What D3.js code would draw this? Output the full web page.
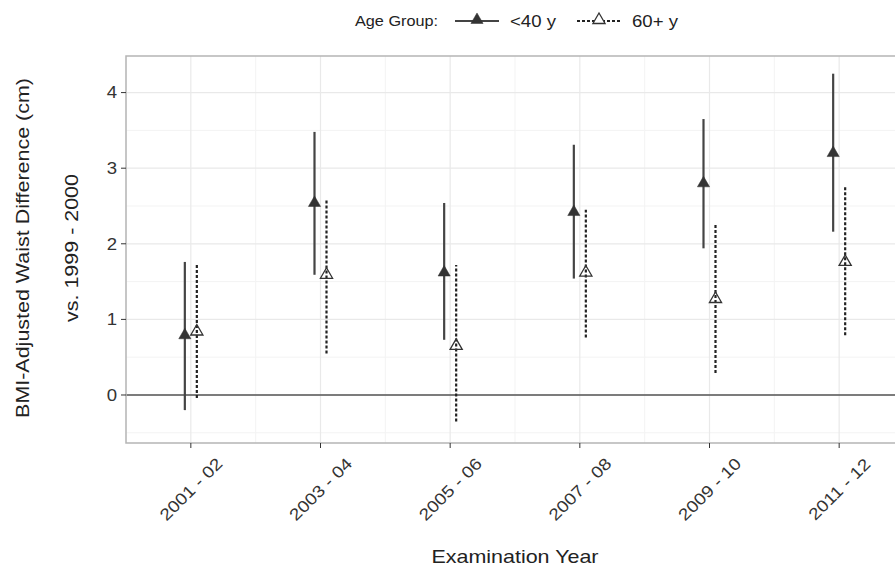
<!DOCTYPE html>
<html>
<head>
<meta charset="utf-8">
<script src="https://cdn.jsdelivr.net/npm/d3@7"></script>
<style>
  body { margin: 0; background: #fff; }
  text { font-family: "Liberation Sans", Arial, sans-serif; }
</style>
</head>
<body>
<div id="chart"></div>
<script>
// data
var categories = ["2001 - 02", "2003 - 04", "2005 - 06", "2007 - 08", "2009 - 10", "2011 - 12"];
var groups = ["<40 y", "60+ y"];
var young = [0.79, 2.54, 1.62, 2.42, 2.80, 3.20];
var youngLo = [-0.20, 1.59, 0.73, 1.54, 1.94, 2.16];
var youngHi = [1.76, 3.48, 2.54, 3.31, 3.65, 4.25];
var old = [0.84, 1.59, 0.65, 1.62, 1.27, 1.76];
var oldLo = [-0.04, 0.55, -0.35, 0.76, 0.29, 0.79];
var oldHi = [1.74, 2.60, 1.72, 2.45, 2.26, 2.76];
var yTicks = [0, 1, 2, 3, 4];
var yMinor = [-0.5, 0.5, 1.5, 2.5, 3.5];

var W = 895, H = 570;
var panel = {left: 126, top: 56, right: 904, bottom: 443};

var svg = d3.select("#chart").append("svg")
  .attr("width", W)
  .attr("height", H);

var x = d3.scalePoint().domain(categories).range([panel.left, panel.right]).padding(0.5);
var dodge = d3.scalePoint().domain(groups).range([-6, 6]);
var y = d3.scaleLinear().domain([-0.635, 4.484]).range([panel.bottom, panel.top]);

// rows for drawing
var rows = [];
categories.forEach(function(c, i) {
  rows.push({cat: c, grp: groups[0], v: young[i], lo: youngLo[i], hi: youngHi[i]});
  rows.push({cat: c, grp: groups[1], v: old[i], lo: oldLo[i], hi: oldHi[i]});
});

// grid
var xMinor = categories.slice(1).map(function(c, i) { return (x(c) + x(categories[i])) / 2; });
xMinor.unshift(x(categories[0]) - x.step() / 2);
svg.append("g").selectAll("line").data(yMinor).enter().append("line")
  .attr("x1", panel.left).attr("x2", panel.right)
  .attr("y1", function(d) { return y(d); }).attr("y2", function(d) { return y(d); })
  .attr("stroke", "#f3f3f3").attr("stroke-width", 1);
svg.append("g").selectAll("line").data(xMinor).enter().append("line")
  .attr("x1", function(d) { return d; }).attr("x2", function(d) { return d; })
  .attr("y1", panel.top).attr("y2", panel.bottom)
  .attr("stroke", "#f3f3f3").attr("stroke-width", 1);
svg.append("g").selectAll("line").data(yTicks).enter().append("line")
  .attr("x1", panel.left).attr("x2", panel.right)
  .attr("y1", function(d) { return y(d); }).attr("y2", function(d) { return y(d); })
  .attr("stroke", "#e9e9e9").attr("stroke-width", 1.2);
svg.append("g").selectAll("line").data(categories).enter().append("line")
  .attr("x1", function(d) { return x(d); }).attr("x2", function(d) { return x(d); })
  .attr("y1", panel.top).attr("y2", panel.bottom)
  .attr("stroke", "#e9e9e9").attr("stroke-width", 1.2);

// zero line
svg.append("line")
  .attr("x1", panel.left).attr("x2", panel.right)
  .attr("y1", y(0)).attr("y2", y(0))
  .attr("stroke", "#555").attr("stroke-width", 1.7);

// error bars
svg.append("g").selectAll("line").data(rows).enter().append("line")
  .attr("x1", function(d) { return x(d.cat) + dodge(d.grp); })
  .attr("x2", function(d) { return x(d.cat) + dodge(d.grp); })
  .attr("y1", function(d) { return y(d.lo); })
  .attr("y2", function(d) { return y(d.hi); })
  .attr("stroke", function(d) { return d.grp == groups[0] ? "#444" : "#222"; })
  .attr("stroke-width", 2.2)
  .attr("stroke-dasharray", function(d) { return d.grp == groups[0] ? null : "3,2"; });

// points
var tri = d3.symbol().type(d3.symbolTriangle).size(64);
svg.append("g").selectAll("path").data(rows).enter().append("path")
  .attr("d", tri)
  .attr("transform", function(d) { return "translate(" + (x(d.cat) + dodge(d.grp)) + "," + y(d.v) + ")"; })
  .attr("fill", function(d) { return d.grp == groups[0] ? "#333" : "none"; })
  .attr("stroke", "#333")
  .attr("stroke-width", function(d) { return d.grp == groups[0] ? 0.5 : 1.3; });

// panel border
svg.append("rect")
  .attr("x", panel.left).attr("y", panel.top)
  .attr("width", panel.right - panel.left).attr("height", panel.bottom - panel.top)
  .attr("fill", "none").attr("stroke", "#b5b5b5").attr("stroke-width", 1.5);

// y axis
var yAxis = svg.append("g");
yAxis.selectAll("line").data(yTicks).enter().append("line")
  .attr("x1", panel.left - 5).attr("x2", panel.left)
  .attr("y1", function(d) { return y(d); }).attr("y2", function(d) { return y(d); })
  .attr("stroke", "#333").attr("stroke-width", 1);
yAxis.selectAll("text").data(yTicks).enter().append("text")
  .attr("x", panel.left - 9)
  .attr("y", function(d) { return y(d); })
  .attr("dy", "0.36em")
  .attr("text-anchor", "end")
  .attr("font-size", "16px")
  .attr("fill", "#333")
  .text(function(d) { return d; });

// x axis
var xAxis = svg.append("g");
xAxis.selectAll("line").data(categories).enter().append("line")
  .attr("x1", function(d) { return x(d); }).attr("x2", function(d) { return x(d); })
  .attr("y1", panel.bottom).attr("y2", panel.bottom + 5)
  .attr("stroke", "#333").attr("stroke-width", 1);
xAxis.selectAll("text").data(categories).enter().append("text")
  .attr("transform", function(d) { return "translate(" + x(d) + ",489) rotate(-45)"; })
  .attr("text-anchor", "middle")
  .attr("dy", "0.36em")
  .attr("font-size", "16.5px")
  .attr("fill", "#333")
  .text(function(d) { return d; });

// titles
svg.append("text")
  .attr("x", (panel.left + panel.right) / 2)
  .attr("y", 563)
  .attr("text-anchor", "middle")
  .attr("font-size", "18.5px")
  .attr("fill", "#222")
  .text("Examination Year");
svg.append("text")
  .attr("transform", "translate(29,248) rotate(-90)")
  .attr("text-anchor", "middle")
  .attr("font-size", "18.5px")
  .attr("fill", "#222")
  .text("BMI-Adjusted Waist Difference (cm)");
svg.append("text")
  .attr("transform", "translate(78,248) rotate(-90)")
  .attr("text-anchor", "middle")
  .attr("font-size", "18.5px")
  .attr("fill", "#222")
  .text("vs. 1999 - 2000");

// legend
var legend = svg.append("g");
legend.append("text")
  .attr("x", 355).attr("y", 26)
  .attr("font-size", "14px")
  .attr("fill", "#222")
  .text("Age Group:");
var keyX = [455, 577];
var keys = legend.selectAll("g.key").data(groups).enter().append("g")
  .attr("class", "key")
  .attr("transform", function(d, i) { return "translate(" + keyX[i] + ",0)"; });
keys.append("line")
  .attr("x1", 0).attr("x2", 44).attr("y1", 21).attr("y2", 21)
  .attr("stroke", function(d, i) { return i == 0 ? "#444" : "#222"; })
  .attr("stroke-width", 2)
  .attr("stroke-dasharray", function(d, i) { return i == 0 ? null : "3,2"; });
keys.append("path")
  .attr("d", tri)
  .attr("transform", "translate(22,20)")
  .attr("fill", function(d, i) { return i == 0 ? "#333" : "#fff"; })
  .attr("stroke", "#333")
  .attr("stroke-width", function(d, i) { return i == 0 ? 0.5 : 1.3; });
keys.append("text")
  .attr("x", 55).attr("y", 27)
  .attr("font-size", "16px")
  .attr("fill", "#222")
  .text(function(d) { return d; });

// the source font is wider than Arial, stretch all labels a bit
svg.selectAll("text").each(function() {
  var len = this.getComputedTextLength();
  d3.select(this).attr("textLength", len * 1.16).attr("lengthAdjust", "spacingAndGlyphs");
});
</script>
</body>
</html>
